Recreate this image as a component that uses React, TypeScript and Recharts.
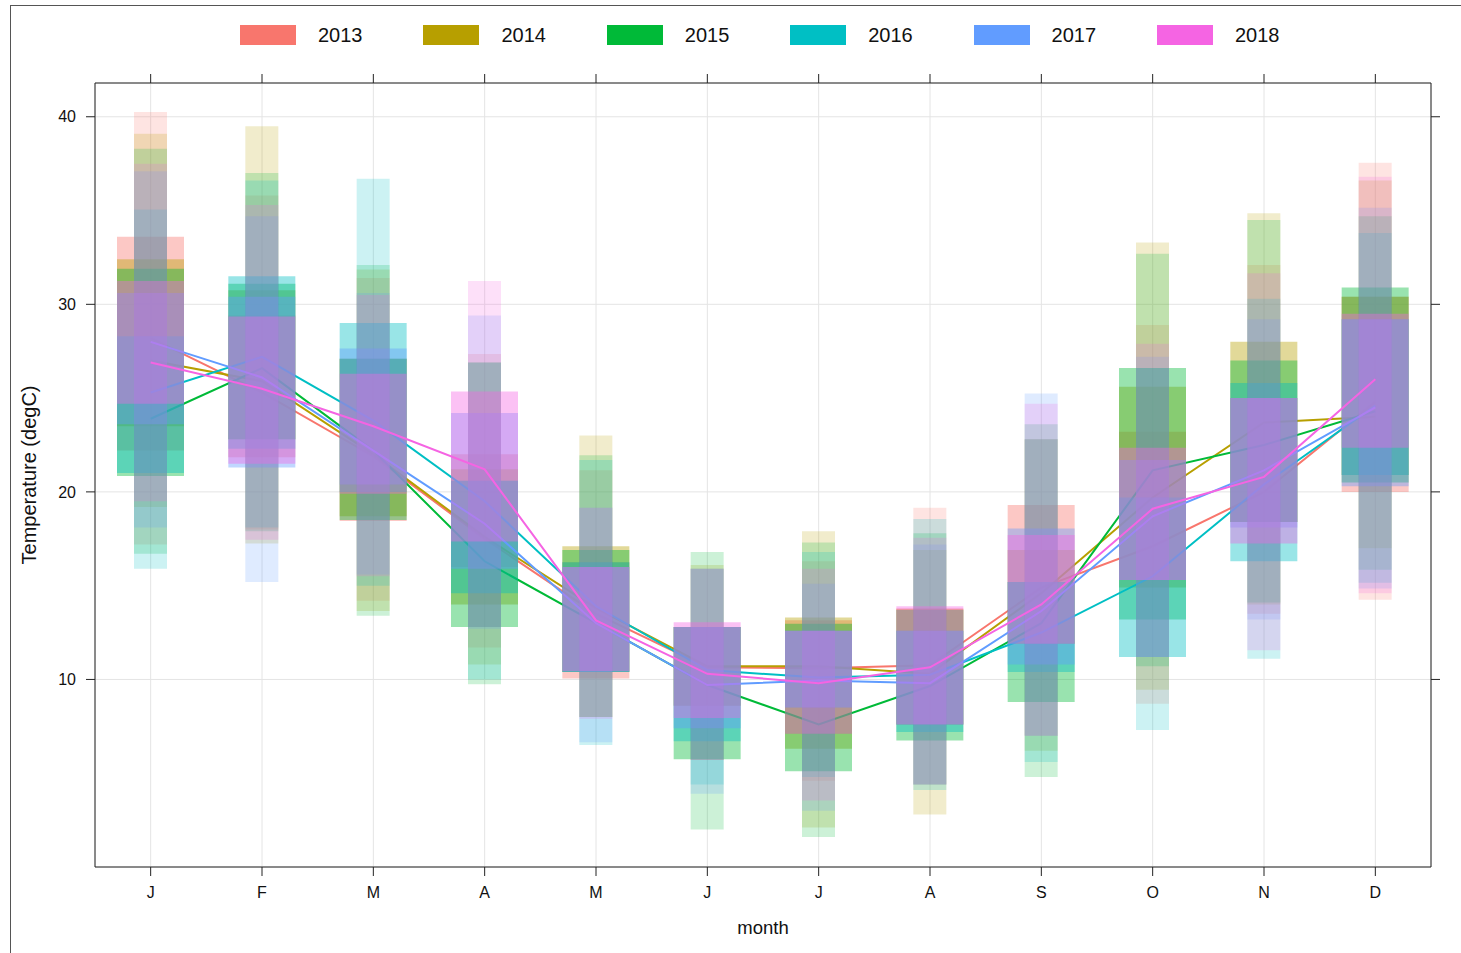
import React from 'react';
import { ComposedChart, Bar, Line, XAxis, YAxis, CartesianGrid, Legend } from 'recharts';

// month categories and their axis labels
const months = ['Jan', 'Feb', 'Mar', 'Apr', 'May', 'Jun', 'Jul', 'Aug', 'Sep', 'Oct', 'Nov', 'Dec'];
const monthLabels = ['J', 'F', 'M', 'A', 'M', 'J', 'J', 'A', 'S', 'O', 'N', 'D'];

const years = ['2013', '2014', '2015', '2016', '2017', '2018'];
const yearColors = ['#F8766D', '#B79F00', '#00BA38', '#00BFC4', '#619CFF', '#F564E3'];

const yTicks = [10, 20, 30, 40];

// monthly median temperature (degC)
const median: Record<string, number[]> = {
  '2013': [28.2, 25.3, 21.9, 17.5, 13.5, 10.65, 10.6, 10.75, 14.9, 17.1, 20.0, 24.8],
  '2014': [27.0, 25.9, 22.0, 17.6, 13.8, 10.7, 10.7, 10.3, 14.6, 19.7, 23.7, 24.0],
  '2015': [23.9, 26.6, 22.2, 16.3, 13.0, 9.7, 7.6, 9.65, 13.0, 21.15, 22.5, 24.3],
  '2016': [25.3, 27.2, 23.8, 19.5, 13.9, 10.5, 10.1, 10.25, 12.5, 15.5, 20.4, 24.6],
  '2017': [28.0, 26.1, 22.2, 18.3, 13.0, 9.7, 9.95, 9.8, 13.65, 18.7, 21.15, 24.5],
  '2018': [26.9, 25.5, 23.5, 21.2, 13.15, 10.3, 9.8, 10.65, 14.0, 19.1, 20.8, 26.0],
};

// 5th percentile
const q05: Record<string, number[]> = {
  '2013': [17.2, 18.0, 14.2, 11.7, 8.0, 5.7, 4.6, 4.4, 7.0, 8.7, 13.5, 14.25],
  '2014': [19.2, 17.25, 13.65, 10.8, 8.0, 5.7, 2.1, 2.8, 6.2, 9.45, 14.0, 17.0],
  '2015': [16.7, 17.9, 13.4, 9.75, 8.0, 2.0, 1.6, 4.4, 4.8, 10.7, 14.1, 15.85],
  '2016': [15.9, 18.1, 15.0, 10.0, 6.5, 4.4, 4.8, 4.1, 5.6, 7.3, 11.1, 15.15],
  '2017': [18.1, 15.2, 15.6, 12.7, 6.65, 3.9, 3.0, 4.4, 7.0, 11.2, 13.2, 14.85],
  '2018': [19.5, 17.45, 15.5, 12.8, 7.9, 5.7, 3.55, 4.4, 7.0, 11.2, 11.55, 14.6],
};

// 25th percentile
const q25: Record<string, number[]> = {
  '2013': [22.2, 21.85, 18.45, 16.0, 10.05, 8.6, 7.1, 7.6, 11.9, 15.3, 18.4, 20.0],
  '2014': [23.5, 22.8, 18.7, 14.0, 10.4, 8.6, 6.3, 7.6, 11.9, 14.9, 18.4, 20.9],
  '2015': [20.85, 22.8, 18.5, 12.8, 10.4, 5.75, 5.1, 6.75, 8.8, 13.2, 18.4, 20.5],
  '2016': [21.0, 22.3, 20.0, 14.6, 10.4, 6.7, 8.5, 7.2, 10.4, 11.2, 16.3, 20.9],
  '2017': [23.6, 21.3, 20.4, 15.9, 10.4, 7.4, 8.5, 7.6, 10.8, 15.3, 18.1, 20.3],
  '2018': [24.7, 21.5, 19.9, 17.35, 10.45, 7.95, 7.1, 7.6, 11.9, 15.3, 17.25, 22.35],
};

// 75th percentile
const q75: Record<string, number[]> = {
  '2013': [33.6, 29.4, 27.1, 22.0, 16.25, 12.8, 13.15, 13.8, 19.3, 23.2, 25.0, 30.4],
  '2014': [32.4, 30.75, 27.1, 21.2, 17.1, 12.8, 13.3, 13.75, 16.9, 25.6, 28.0, 30.4],
  '2015': [31.9, 31.1, 27.1, 20.6, 16.9, 12.8, 12.97, 13.7, 15.2, 26.6, 27.0, 30.9],
  '2016': [28.3, 31.5, 29.0, 20.6, 16.25, 12.8, 12.6, 12.6, 15.2, 19.7, 25.8, 29.2],
  '2017': [30.6, 30.4, 27.65, 24.2, 16.0, 12.8, 12.6, 12.6, 18.05, 21.7, 25.0, 29.2],
  '2018': [31.25, 29.35, 26.3, 25.35, 16.0, 13.05, 12.6, 13.9, 17.7, 22.35, 25.0, 29.5],
};

// 95th percentile
const q95: Record<string, number[]> = {
  '2013': [40.25, 35.8, 31.4, 27.35, 21.15, 15.9, 16.3, 19.15, 22.8, 28.9, 32.1, 37.55],
  '2014': [39.1, 39.5, 31.85, 26.9, 23.0, 16.1, 17.9, 16.9, 22.8, 33.3, 34.85, 36.6],
  '2015': [38.3, 37.0, 32.1, 26.9, 21.95, 16.8, 17.3, 17.8, 23.6, 32.7, 34.5, 34.7],
  '2016': [35.05, 36.6, 36.7, 26.9, 21.7, 15.9, 16.8, 18.55, 22.8, 26.6, 30.3, 33.8],
  '2017': [37.1, 34.7, 30.6, 29.4, 19.15, 15.9, 15.1, 17.2, 25.25, 27.2, 29.2, 35.15],
  '2018': [37.5, 35.3, 30.5, 31.25, 19.15, 15.9, 15.9, 17.55, 24.7, 27.9, 31.65, 36.8],
};

const chartData = months.map((m, i) => {
  const row: Record<string, any> = { month: m };
  years.forEach((y) => {
    row[`med${y}`] = median[y][i];
    row[`outer${y}`] = [q05[y][i], q95[y][i]];
    row[`inner${y}`] = [q25[y][i], q75[y][i]];
  });
  return row;
});

const font = '"Liberation Sans", Arial, sans-serif';
const axisColor = '#222';

const YearLegend = () => (
  <div style={{ position: 'relative', width: 1461, height: 73, fontFamily: font }}>
    {years.map((y, i) => (
      <div
        key={y}
        style={{ position: 'absolute', left: 240 + i * 183.4, top: 25, height: 20, display: 'flex', alignItems: 'center' }}
      >
        <span style={{ display: 'inline-block', width: 56, height: 20, background: yearColors[i] }} />
        <span style={{ marginLeft: 22, fontSize: 20, color: '#111', lineHeight: '20px' }}>{y}</span>
      </div>
    ))}
  </div>
);

const App: React.FC = () => {
  return (
    <div style={{ position: 'absolute', left: 0, top: 0, width: 1461, height: 953, background: '#fff' }}>
      <div
        style={{
          position: 'absolute', left: 10, top: 5, width: 1451, height: 948,
          borderTop: '1px solid #555', borderLeft: '1px solid #555',
        }}
      />
      <div style={{ position: 'absolute', left: 0, top: 0 }}>
        <ComposedChart
          width={1461}
          height={953}
          data={chartData}
          margin={{ top: 0, right: 20, bottom: 16, left: 30 }}
          style={{ fontFamily: font }}
        >
          <Legend
            verticalAlign="top"
            content={() => <YearLegend />}
            wrapperStyle={{ top: 0, left: 0, width: 1461, height: 73 }}
          />
          <CartesianGrid xAxisId="main" yAxisId="left" stroke="#e4e4e4" ticks={yTicks} />
          <XAxis
            xAxisId="main"
            dataKey="month"
            height={70}
            tickSize={9}
            tickMargin={11}
            tick={{ fill: '#111', fontSize: 16 }}
            tickFormatter={(_v: any, i: number) => monthLabels[i]}
            axisLine={{ stroke: axisColor }}
            tickLine={{ stroke: axisColor }}
            interval={0}
            label={{ value: 'month', position: 'insideBottom', offset: 3, fill: '#111', fontSize: 18.5 }}
          />
          <XAxis
            xAxisId="top"
            orientation="top"
            dataKey="month"
            height={10}
            tickSize={9}
            tickFormatter={() => ''}
            axisLine={{ stroke: axisColor }}
            tickLine={{ stroke: axisColor }}
            interval={0}
          />
          {years.map((y) => (
            <XAxis key={`xo${y}`} xAxisId={`outer${y}`} dataKey="month" orientation="top" height={0} hide />
          ))}
          {years.map((y) => (
            <XAxis key={`xi${y}`} xAxisId={`inner${y}`} dataKey="month" orientation="top" height={0} hide />
          ))}
          <YAxis
            yAxisId="left"
            type="number"
            domain={[0, 41.8]}
            ticks={yTicks}
            allowDataOverflow
            width={65}
            tickSize={9}
            tickMargin={10}
            tick={{ fill: '#111', fontSize: 16 }}
            axisLine={{ stroke: axisColor }}
            tickLine={{ stroke: axisColor }}
            label={{
              value: 'Temperature (degC)',
              angle: -90,
              position: 'insideLeft',
              offset: -1,
              fill: '#111',
              fontSize: 20,
              style: { textAnchor: 'middle' },
            }}
          />
          <YAxis
            yAxisId="right"
            orientation="right"
            type="number"
            domain={[0, 41.8]}
            ticks={yTicks}
            allowDataOverflow
            width={10}
            tickSize={9}
            tickFormatter={() => ''}
            axisLine={{ stroke: axisColor }}
            tickLine={{ stroke: axisColor }}
          />
          {years.flatMap((y, i) => [
            <Bar
              key={`bo${y}`}
              xAxisId={`outer${y}`}
              yAxisId="left"
              dataKey={`outer${y}`}
              fill={yearColors[i]}
              fillOpacity={0.2}
              barSize={33}
              isAnimationActive={false}
              legendType="none"
              zIndex={300 + i * 3}
            />,
            <Bar
              key={`bi${y}`}
              xAxisId={`inner${y}`}
              yAxisId="left"
              dataKey={`inner${y}`}
              fill={yearColors[i]}
              fillOpacity={0.4}
              barSize={67}
              isAnimationActive={false}
              legendType="none"
              zIndex={301 + i * 3}
            />,
            <Line
              key={`l${y}`}
              xAxisId="main"
              yAxisId="left"
              type="linear"
              dataKey={`med${y}`}
              name={y}
              stroke={yearColors[i]}
              strokeWidth={2}
              dot={false}
              activeDot={false}
              isAnimationActive={false}
              zIndex={302 + i * 3}
            />,
          ])}
        </ComposedChart>
      </div>
    </div>
  );
};

export default App;
